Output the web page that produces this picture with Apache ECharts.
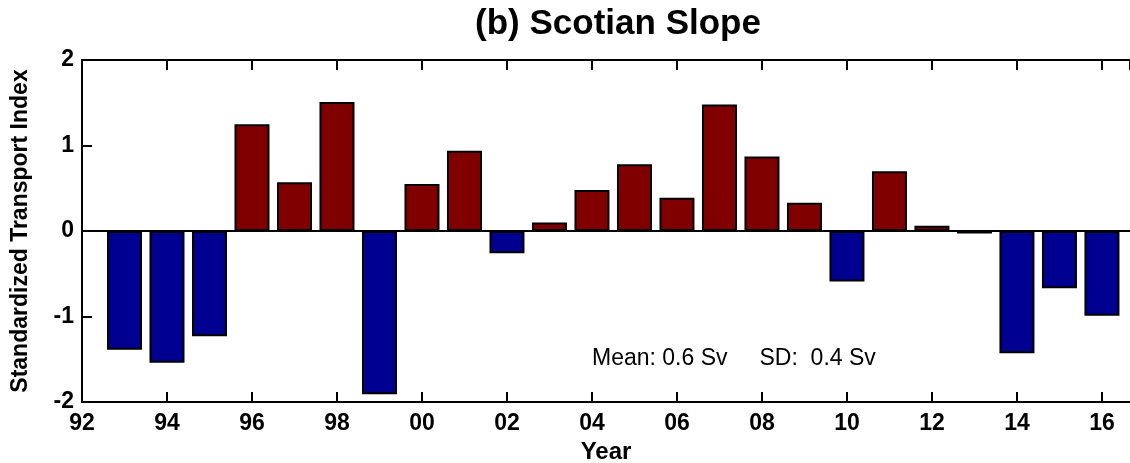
<!DOCTYPE html>
<html>
<head>
<meta charset="utf-8">
<script src="https://cdn.jsdelivr.net/npm/echarts@6/dist/echarts.min.js"></script>
<style>
  html, body { margin: 0; padding: 0; background: #fff; }
  #chart { width: 1130px; height: 463px; }
</style>
</head>
<body>
<div id="chart"></div>
<script>
'use strict';
// Scotian Slope standardized transport index, one bar per year
const years = [1993, 1994, 1995, 1996, 1997, 1998, 1999, 2000, 2001, 2002, 2003, 2004,
  2005, 2006, 2007, 2008, 2009, 2010, 2011, 2012, 2013, 2014, 2015, 2016];
const index = [-1.39, -1.54, -1.23, 1.25, 0.57, 1.51, -1.91, 0.55, 0.94, -0.26, 0.10, 0.48,
  0.78, 0.39, 1.48, 0.87, 0.33, -0.59, 0.70, 0.06, -0.03, -1.43, -0.67, -0.99];
const yTicks = [-2, -1, 0, 1, 2];

const FONT = 'Liberation Sans';
const RED = '#800000', BLUE = '#000090';
const yr2 = (v) => (v % 2 === 0 ? String(v % 100).padStart(2, '0') : '');

const chart = echarts.init(document.getElementById('chart'));
const xCommon = {
  type: 'value', min: 1992, max: 2016.66, interval: 2,
  axisLine: { onZero: false, lineStyle: { color: '#000', width: 2 } },
  axisTick: { inside: true, length: 10, lineStyle: { color: '#000', width: 2 } },
  splitLine: { show: false },
};
chart.setOption({
  animation: false,
  title: {
    text: '(b) Scotian Slope', left: 613, top: 2, textAlign: 'center',
    textStyle: { fontFamily: FONT, fontWeight: 'bold', fontSize: 35, color: '#000' },
  },
  grid: { left: 82, right: 0, top: 60, bottom: 61, outerBoundsMode: 'none', containLabel: false },
  xAxis: [
    Object.assign({}, xCommon, {
      position: 'bottom',
      name: 'Year', nameLocation: 'middle', nameGap: 38,
      nameTextStyle: { fontFamily: FONT, fontWeight: 'bold', fontSize: 24, color: '#000' },
      axisLabel: { formatter: yr2, showMaxLabel: false, margin: 10,
        fontFamily: FONT, fontWeight: 'bold', fontSize: 23, color: '#000' },
    }),
    Object.assign({}, xCommon, { position: 'top', axisLabel: { show: false } }),
  ],
  yAxis: {
    type: 'value', min: yTicks[0], max: yTicks[yTicks.length - 1], interval: 1,
    name: 'Standardized Transport Index', nameLocation: 'middle', nameGap: 50,
    nameTextStyle: { fontFamily: FONT, fontWeight: 'bold', fontSize: 23, color: '#000' },
    axisLine: { show: true, lineStyle: { color: '#000', width: 2 } },
    axisTick: { inside: true, length: 10, lineStyle: { color: '#000', width: 2 } },
    axisLabel: { margin: 8, fontFamily: FONT, fontWeight: 'bold', fontSize: 23, color: '#000' },
    splitLine: { show: false },
  },
  graphic: [{
    type: 'text', left: 592, top: 347,
    style: { text: 'Mean: 0.6 Sv     SD:  0.4 Sv', fontFamily: FONT, fontSize: 23, fill: '#000' },
  }],
  series: [{
    type: 'bar', barWidth: 35,
    data: years.map((y, i) => [y, index[i]]),
    itemStyle: {
      color: (p) => (p.value[1] >= 0 ? RED : BLUE),
      borderColor: '#000', borderWidth: 2,
    },
    markLine: {
      silent: true, symbol: 'none', label: { show: false },
      lineStyle: { color: '#000', width: 2, type: 'solid' },
      data: [{ yAxis: 0 }],
    },
  }],
});
</script>
</body>
</html>
